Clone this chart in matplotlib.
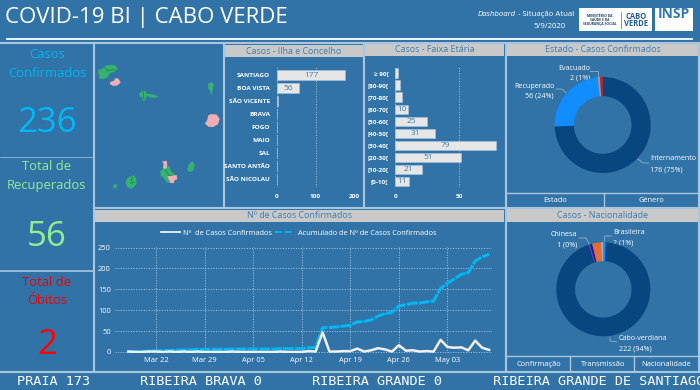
#!/usr/bin/env python3
import matplotlib

matplotlib.use("Agg")
import matplotlib.pyplot as plt
from matplotlib.lines import Line2D
from matplotlib.patches import Polygon, Rectangle
import matplotlib.dates as mdates
import numpy as np
import pandas as pd

plt.rcParams['font.family'] = ['Open Sans', 'DejaVu Sans']

BG = '#3273A7'
BORDER = '#A9C6DE'
BAR_TITLE = '#C9C9C9'
TITLE_TXT = '#3F7DAD'
GRID = '#A9C9E2'

# KPIs
kpi_confirmed = 236
kpi_recovered = 56
kpi_deaths = 2

# Cases by island
islands = ['SANTIAGO', 'BOA VISTA', 'SÃO VICENTE', 'BRAVA', 'FOGO', 'MAIO', 'SAL',
           'SANTO ANTÃO', 'SÃO NICOLAU']
island_cases = [177, 56, 2, 0, 0, 0, 0, 0, 0]

# Cases by age group
ages = ['≥ 90[', '[80-90[', '[70-80[', '[60-70[', '[50-60[', '[40-50[', '[30-40[',
        '[20-30[', '[10-20[', '[0-10[']
age_cases = [2, 4, 5, 10, 25, 31, 79, 51, 21, 11]

# Status donut
status_labels = ['Internamento', 'Recuperado', 'Evacuado', 'Óbito']
status_values = [176, 56, 2, 2]
status_colors = ['#07467E', '#118DFF', '#9A9A9A', '#E01010']

# Nationality donut
nat_labels = ['Brasileira', 'Cabo-verdiana', 'Chinesa', 'Outra A', 'Outra B', 'Outra C']
nat_values = [2, 222, 1, 2, 7, 2]
nat_colors = ['#118DFF', '#07467E', '#8E2BB0', '#12239E', '#E66C37', '#A8A8A8']

# Daily series, 18 Mar to 9 May 2020
dates = pd.date_range('2020-03-18', '2020-05-09')
daily = [1, 0, 0, 1, 1, 0, 1, 0, 1, 0, 1, 0, 0, 0, 0, 1, 0, 0, 0, 0, 0, 0, 1, 0, 0, 0,
         2, 1, 47, 1, 1, 2, 2, 8, 1, 4, 9, 6, 1, 16, 3, 4, 1, 2, 1, 29, 12, 10, 11, 4, 27,
         10, 5]
cumulative = [1, 1, 1, 2, 3, 3, 4, 4, 5, 5, 6, 6, 6, 6, 6, 7, 7, 7, 7, 7, 7, 7, 8, 8, 8, 8,
              10, 11, 58, 59, 60, 62, 64, 72, 73, 77, 86, 92, 95, 110, 113, 117, 117, 120,
              122, 152, 165, 175, 186, 190, 218, 228, 234]
week_ticks = ['2020-03-22', '2020-03-29', '2020-04-05', '2020-04-12', '2020-04-19',
              '2020-04-26', '2020-05-03']

# Map outlines (map panel pixels)
map_green = [
    [(10, 76), (22, 72), (32, 63), (48, 60), (60, 62), (67, 72), (58, 80), (45, 84), (38, 95),
     (25, 102), (14, 100), (12, 88)],
    [(133, 148), (140, 140), (150, 138), (155, 147), (170, 148), (190, 155), (172, 158), (155, 152),
     (148, 168), (143, 165), (143, 155), (136, 155)],
    [(340, 118), (350, 112), (355, 118), (352, 135), (349, 150), (346, 138), (340, 128)],
    [(277, 375), (282, 358), (292, 350), (298, 358), (295, 375), (285, 381)],
    [(197, 380), (205, 370), (213, 362), (224, 365), (226, 378), (238, 388), (240, 400), (232, 412),
     (218, 412), (208, 402), (205, 395), (198, 393)],
    [(92, 412), (100, 398), (115, 392), (123, 400), (123, 418), (110, 430), (98, 426)],
    [(55, 422), (62, 417), (66, 422), (62, 430), (56, 428)],
]
map_pink = [
    [(45, 112), (57, 108), (62, 100), (70, 102), (76, 112), (68, 120), (55, 122), (48, 119)],
    [(331, 235), (338, 225), (340, 212), (350, 208), (365, 210), (373, 222), (368, 238), (352, 246),
     (340, 244)],
    [(203, 350), (215, 348), (216, 360), (213, 370), (205, 369), (207, 358)],
    [(218, 396), (228, 390), (245, 392), (246, 402), (238, 405), (236, 414), (226, 413), (224, 405)],
]
map_borders = [
    [(30, 68), (38, 78), (55, 72), (62, 78)],
    [(145, 140), (147, 166)],
    [(112, 397), (108, 415), (118, 412)],
    [(212, 375), (222, 392), (235, 390)],
]


def px_axes(fig, x0, y0, x1, y1):
    # axes from pixel box, y measured from the top
    return fig.add_axes([x0 / 700, 1 - y1 / 390, (x1 - x0) / 700, (y1 - y0) / 390])


def style_axes(ax):
    ax.patch.set_alpha(0)
    for s in ax.spines.values():
        s.set_visible(False)


fig = plt.figure(figsize=(7, 3.9), dpi=100, facecolor=BG)

# full size overlay in pixels for panels and text
bg = fig.add_axes([0, 0, 1, 1])
bg.set_xlim(0, 700)
bg.set_ylim(390, 0)
bg.axis('off')

for x, y0, y1 in [(94, 43, 372), (223.5, 43, 208), (364, 43, 208), (505.5, 43, 372), (699, 43, 372)]:
    bg.plot([x, x], [y0, y1], color=BORDER, lw=1.5)
for y, x0, x1, lw in [(43, 0, 700, 1.5), (208, 94, 700, 1.5), (372, 0, 700, 1.5), (271, 0, 94, 1.2),
                      (156.5, 0, 94, 0.5)]:
    bg.plot([x0, x1], [y, y], color=BORDER, lw=lw)
bg.plot([7, 692], [39, 39], color='white', lw=1.3)

for x0, y0, x1, y1, txt in [(225, 45, 363, 57, 'Casos - Ilha e Concelho'),
                            (365, 44, 504, 56, 'Casos - Faixa Etária'),
                            (507, 44, 699, 56, 'Estado - Casos Confirmados'),
                            (95, 210, 504, 222, 'Nº de Casos Confirmados'),
                            (507, 209, 699, 222, 'Casos - Nacionalidade')]:
    bg.add_patch(Rectangle((x0, y0), x1 - x0, y1 - y0, fc=BAR_TITLE, ec='none'))
    bg.text((x0 + x1) / 2, (y0 + y1) / 2, txt, color=TITLE_TXT, fontsize=6.4, ha='center', va='center')

# header
bg.text(5, 18, 'COVID-19 BI | CABO VERDE', color='white', fontsize=16, ha='left', va='center')
bg.text(516, 14.5, 'Dashboard', color='white', fontsize=5.6, style='italic', ha='right', va='center')
bg.text(518, 14.5, '- Situação Atual', color='white', fontsize=5.6, ha='left', va='center')
bg.text(550, 27, '5/9/2020', color='white', fontsize=5.6, ha='center', va='center')
bg.add_patch(Rectangle((579, 8), 73, 23, fc='white', ec='none'))
bg.add_patch(Rectangle((655, 8), 38, 23, fc='white', ec='none'))
bg.plot([621, 621], [12, 28], color='#3273A7', lw=0.5)
bg.text(600, 20, 'MINISTÉRIO DA\nSAÚDE E DA\nSEGURANÇA SOCIAL', color='#1E3F6E', fontsize=2.4,
        fontweight='bold', ha='center', va='center', linespacing=1.1)
bg.text(636, 20, 'CABO\nVERDE', color='#1F5C99', fontsize=5.5, fontweight='bold', ha='center',
        va='center', linespacing=0.85)
bg.text(674, 14.5, 'INSP', color='#2F78B5', fontsize=10, fontweight='bold', ha='center', va='center')

# KPI column
bg.text(47, 55, 'Casos', color='#00B4EE', fontsize=9.4, ha='center', va='center')
bg.text(47, 73.5, 'Confirmados', color='#00B4EE', fontsize=9.4, ha='center', va='center')
bg.text(47, 123, str(kpi_confirmed), color='#00B8F5', fontsize=25, ha='center', va='center')
bg.text(47, 166, 'Total de', color='#90EE90', fontsize=9.4, ha='center', va='center')
bg.text(47, 185, 'Recuperados', color='#90EE90', fontsize=9.4, ha='center', va='center')
bg.text(47, 237, str(kpi_recovered), color='#90EE90', fontsize=25, ha='center', va='center')
bg.text(47, 282, 'Total de', color='#F00000', fontsize=9.4, ha='center', va='center')
bg.text(47, 301, 'Óbitos', color='#F00000', fontsize=9.4, ha='center', va='center')
bg.text(47, 345, str(kpi_deaths), color='#FF0000', fontsize=25, ha='center', va='center')

# buttons under the donuts
bg.plot([507, 699], [193, 193], color=BORDER, lw=1)
bg.plot([604, 604], [193, 207], color=BORDER, lw=1)
bg.text(555.5, 200.5, 'Estado', color='white', fontsize=5.4, ha='center', va='center')
bg.text(651, 200.5, 'Género', color='white', fontsize=5.4, ha='center', va='center')
bg.plot([507, 699], [356, 356], color=BORDER, lw=1)
bg.plot([570, 570], [356, 371], color=BORDER, lw=1)
bg.plot([634, 634], [356, 371], color=BORDER, lw=1)
bg.text(539, 364, 'Confirmação', color='white', fontsize=5.4, ha='center', va='center')
bg.text(603, 364, 'Transmissão', color='white', fontsize=5.4, ha='center', va='center')
bg.text(666.5, 364, 'Nacionalidade', color='white', fontsize=5.4, ha='center', va='center')

# scrolling ticker, the last item runs off the edge as in the dashboard
for x, txt in [(17, 'PRAIA 173'), (140, 'RIBEIRA BRAVA 0'), (312, 'RIBEIRA GRANDE 0'),
               (493, 'RIBEIRA GRANDE DE SANTIAGO 0')]:
    bg.text(x, 381.5, txt, color='white', fontsize=9.7, family='DejaVu Sans Mono', ha='left', va='center')

# map
ax_map = px_axes(fig, 95, 45, 223, 205)
ax_map.set_xlim(0, 384)
ax_map.set_ylim(480, 0)
ax_map.axis('off')
for pts in map_green:
    ax_map.add_patch(Polygon(pts, fc='#35B26F', ec='#35B26F', lw=0.4))
for pts in map_pink:
    ax_map.add_patch(Polygon(pts, fc='#F2AEB5', ec='#F2AEB5', lw=0.4))
for pts in map_borders:
    xs, ys = zip(*pts)
    ax_map.plot(xs, ys, color='#1F7A4C', lw=0.5)

# island bars
ax_i = px_axes(fig, 277, 66, 354.4, 187)
style_axes(ax_i)
ypos = np.arange(len(islands))
bars = ax_i.barh(ypos, island_cases, height=0.78, color='#E6E6E6', edgecolor='#A9C6DE', lw=0.4)
for b, v in zip(bars, island_cases):
    if v >= 10:
        ax_i.text(v / 2, b.get_y() + b.get_height() / 2, str(v), color=TITLE_TXT, fontsize=6,
                  ha='center', va='center')
ax_i.set_ylim(len(islands) - 0.35, -0.72)
ax_i.set_xlim(0, 200)
ax_i.set_yticks(ypos, islands)
ax_i.set_xticks([0, 100, 200])
ax_i.grid(axis='x', color=GRID, ls=':', lw=0.7)
ax_i.set_axisbelow(True)
ax_i.tick_params(length=0, labelsize=4.6, labelcolor='white', pad=5)
for t in ax_i.get_yticklabels() + ax_i.get_xticklabels():
    t.set_fontweight('bold')

# age bars
ax_a = px_axes(fig, 395.3, 66, 500, 187)
style_axes(ax_a)
ypos = np.arange(len(ages))
bars = ax_a.barh(ypos, age_cases, height=0.8, color='#E6E6E6', edgecolor='#A9C6DE', lw=0.4)
for b, v in zip(bars, age_cases):
    if v >= 10:
        ax_a.text(v / 2, b.get_y() + b.get_height() / 2, str(v), color=TITLE_TXT, fontsize=6,
                  ha='center', va='center')
ax_a.set_ylim(len(ages) - 0.55, -0.6)
ax_a.set_xlim(0, 81.8)
ax_a.set_yticks(ypos, ages)
ax_a.set_xticks([0, 50])
ax_a.grid(axis='x', color=GRID, ls=':', lw=0.7)
ax_a.set_axisbelow(True)
ax_a.tick_params(length=0, labelsize=4.6, labelcolor='white', pad=5)
for t in ax_a.get_yticklabels() + ax_a.get_xticklabels():
    t.set_fontweight('bold')

# status donut
ax_s = px_axes(fig, 554.7, 77, 650.7, 173)
ax_s.pie(status_values, colors=status_colors, startangle=90, counterclock=False, radius=1,
         wedgeprops=dict(width=0.4, linewidth=0))
ax_s.set_xlim(-1, 1)
ax_s.set_ylim(-1, 1)

# nationality donut
ax_n = px_axes(fig, 556.3, 242.3, 650.3, 336.3)
ax_n.pie(nat_values, colors=nat_colors, startangle=90, counterclock=False, radius=1,
         wedgeprops=dict(width=0.4, linewidth=0))
ax_n.set_xlim(-1, 1)
ax_n.set_ylim(-1, 1)

# donut labels and leaders
for x, y, txt in [(574, 68, 'Evacuado'), (580, 78, '2 (1%)'), (534, 86, 'Recuperado'), (539, 96, '56 (24%)'),
                  (564, 235, 'Chinesa'), (567, 245, '1 (0%)')]:
    bg.text(x, y, txt, color='white', fontsize=5.1, ha='center', va='center', zorder=5)
for x, y, txt in [(650, 159, 'Internamento'), (650, 170, '176 (75%)'), (613, 232, 'Brasileira'),
                  (613, 243, '2 (1%)'), (619, 338, 'Cabo-verdiana'), (619, 349, '222 (94%)')]:
    bg.text(x, y, txt, color='white', fontsize=5.1, ha='left', va='center', zorder=5)
for xs, ys in [((590, 598, 598), (71, 71, 77)), ((556, 562, 566), (89, 89, 93)),
               ((638, 643, 649), (159, 163, 163)), ((579, 586, 590), (238, 238, 245)),
               ((612, 605, 604), (236, 236, 241)), ((610, 610, 617), (337, 341, 342))]:
    bg.plot(xs, ys, color='#A8BCCB', lw=0.5)

# daily line chart
ax_l = px_axes(fig, 115, 247, 492, 353)
style_axes(ax_l)
ax_l.plot(dates, cumulative, color='#00B7F1', lw=2.2, ls=(0, (3.5, 0.4)), zorder=3)
ax_l.plot(dates, daily, color='#F0F0F0', lw=1.8, zorder=4)
ax_l.set_xlim(pd.Timestamp('2020-03-16 02:00'), pd.Timestamp('2020-05-09 10:00'))
ax_l.set_ylim(-2.5, 251.5)
ax_l.set_yticks([0, 50, 100, 150, 200, 250])
ax_l.set_xticks(pd.to_datetime(week_ticks))
ax_l.xaxis.set_major_formatter(mdates.DateFormatter('%b %d'))
ax_l.grid(True, color=GRID, ls=':', lw=0.7)
ax_l.set_axisbelow(True)
ax_l.tick_params(length=0, labelsize=5.4, labelcolor='white', pad=3)
handles = [Line2D([], [], color='#F0F0F0', lw=1.3),
           Line2D([], [], color='#00B7F1', lw=1.3, ls='--')]
ax_l.legend(handles, ['Nº  de Casos Confirmados', 'Acumulado de Nº de Casos Confirmados'], ncol=2,
            frameon=False, fontsize=5.3, labelcolor='white', loc='center', bbox_to_anchor=(0.487, 1.13),
            columnspacing=0.4, handlelength=2.6, handletextpad=0.5)

fig.savefig('out.png', dpi=100, facecolor=BG)
